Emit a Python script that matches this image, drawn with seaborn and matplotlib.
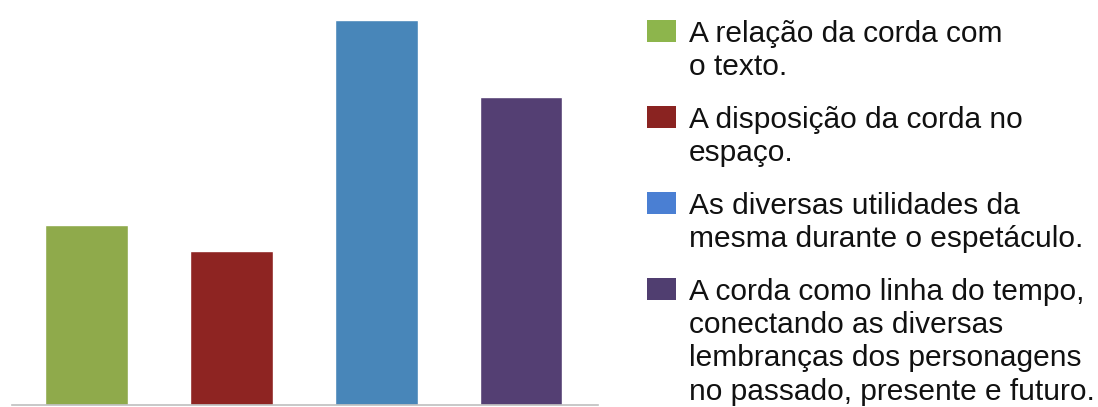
import matplotlib
matplotlib.use("Agg")
import matplotlib.pyplot as plt
from matplotlib.patches import Patch
import seaborn as sns
import pandas as pd

categories = [
    "A relação da corda com\no texto.",
    "A disposição da corda no\nespaço.",
    "As diversas utilidades da\nmesma durante o espetáculo.",
    "A corda como linha do tempo,\nconectando as diversas\nlembranças dos personagens\nno passado, presente e futuro.",
]
values = [7, 6, 15, 12]
bar_colors = ["#8FAA4B", "#8E2422", "#4886B9", "#543F73"]
legend_colors = ["#8DB54C", "#8A2321", "#4A7FD3", "#503E70"]

sns.set_style("white")
plt.rcParams["font.family"] = ["Liberation Sans", "DejaVu Sans"]

df = pd.DataFrame({"cat": categories, "val": values})

W, H = 1098, 407
fig = plt.figure(figsize=(W / 100, H / 100), dpi=100)
ax = fig.add_axes([12 / W, 2 / H, (598 - 12) / W, (405 - 20) / H])

sns.barplot(data=df, x="cat", y="val", hue="cat", palette=bar_colors,
            width=0.57, legend=False, ax=ax, saturation=1, order=categories,
            hue_order=categories)

ax.set_xlim(-0.514, 3.53)
ax.set_ylim(0, 15)
for s in ["top", "right", "left"]:
    ax.spines[s].set_visible(False)
ax.spines["bottom"].set_color("#BFBFBF")
ax.spines["bottom"].set_linewidth(1.2)
ax.set_xticks([])
ax.set_yticks([])
ax.set_xlabel("")
ax.set_ylabel("")

handles = [Patch(facecolor=c, edgecolor="none") for c in legend_colors]
leg = fig.legend(handles, categories, loc="upper left",
                 bbox_to_anchor=(647 / W, 1 - 20 / H), frameon=False,
                 fontsize=21.5, handlelength=0.97, handleheight=0.77,
                 handletextpad=0.42, labelspacing=0.82, borderpad=0,
                 borderaxespad=0, labelcolor="#111111")
for t in leg.get_texts():
    t.set_linespacing(1.245)
for col in leg._legend_handle_box.get_children():
    for row in col.get_children():
        row.align = "top"

fig.savefig("out.png", dpi=100)
